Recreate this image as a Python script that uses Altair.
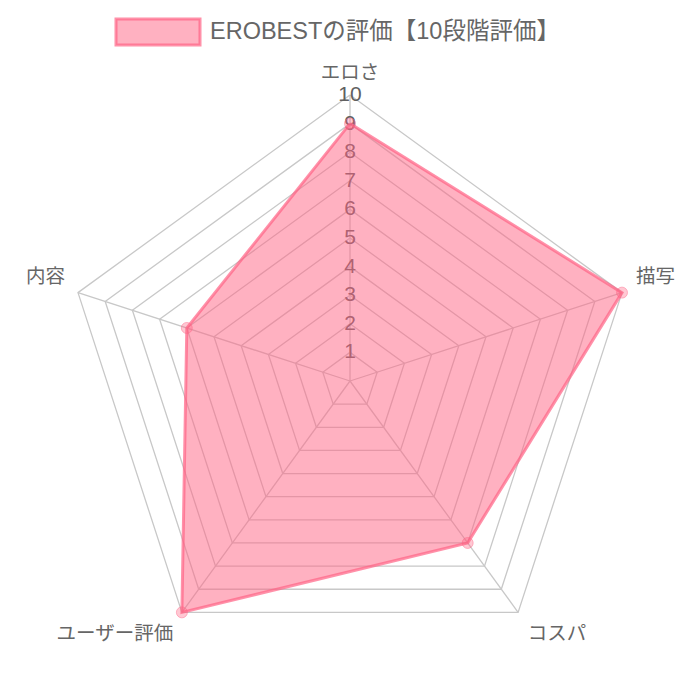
import altair as alt
import pandas as pd

# ---- data ----
categories = ["エロさ", "描写", "コスパ", "ユーザー評価", "内容"]
values = [9, 10, 7, 10, 6]
series_name = "EROBESTの評価【10段階評価】"
levels = list(range(1, 11))
tick_labels = [str(v) for v in levels]
max_level = 10

n = len(categories)

# ---- tables built from the arrays ----
poly = pd.DataFrame({
    "k": list(range(n + 1)),
    "cat": [categories[i % n] for i in range(n + 1)],
    "value": [values[i % n] for i in range(n + 1)],
})
pts = pd.DataFrame({"k": list(range(n)), "cat": categories, "value": values})
rings = pd.DataFrame([
    {"level": lv, "k": k} for lv in levels for k in range(n + 1)
])
spokes = pd.DataFrame({"k": list(range(n)), "cat": categories, "r": [max_level] * n})
ticks = pd.DataFrame({"level": levels, "label": tick_labels})
legend_df = pd.DataFrame({"series": [series_name]})

FONT = "Helvetica Neue, Liberation Sans, Noto Sans CJK JP, sans-serif"
PINK_FILL = "rgba(255, 99, 132, 0.5)"
PINK_LINE = "rgba(255, 99, 132, 0.7)"
GRID = "#c8c8c8"

# pixel geometry of the plot area
W, H = 684, 676
UNIT = 28.6       # pixels per rating point
CX, CY = 342, 373  # centre inside plot area
xs = alt.Scale(domain=[-CX / UNIT, (W - CX) / UNIT], nice=False, zero=False)
ys = alt.Scale(domain=[-(H - CY) / UNIT, CY / UNIT], nice=False, zero=False)

def polar(chart, rfield, kfield="k"):
    return chart.transform_calculate(
        ang=f"datum.{kfield} * 2 * PI / {n}"
    ).transform_calculate(
        px=f"datum.{rfield} * sin(datum.ang)",
        py=f"datum.{rfield} * cos(datum.ang)",
    )

X = alt.X("px:Q", scale=xs, axis=None)
Y = alt.Y("py:Q", scale=ys, axis=None)

ring_layer = polar(alt.Chart(rings), "level").mark_line(
    color=GRID, strokeWidth=1.3
).encode(x=X, y=Y, detail="level:N", order="k:Q")

spoke_layer = polar(alt.Chart(spokes), "r").transform_calculate(zero="0").mark_rule(
    color=GRID, strokeWidth=1.3
).encode(
    x=alt.X("zero:Q", scale=xs, axis=None),
    y=alt.Y("zero:Q", scale=ys, axis=None),
    x2="px:Q", y2="py:Q",
)

tick_layer = alt.Chart(ticks).transform_calculate(zero="0").mark_text(
    font=FONT, fontSize=21, color="#606060", baseline="middle", align="center"
).encode(
    x=alt.X("zero:Q", scale=xs, axis=None),
    y=alt.Y("level:Q", scale=ys, axis=None),
    text="label:N",
)

area_layer = polar(alt.Chart(poly), "value").mark_line(
    fill=PINK_FILL, stroke=PINK_LINE, strokeWidth=3, strokeJoin="miter"
).encode(x=X, y=Y, order="k:Q")

point_layer = polar(alt.Chart(pts), "value").mark_point(
    filled=True, shape="circle", size=120, color=PINK_FILL,
    stroke=PINK_LINE, strokeWidth=1
).encode(x=X, y=Y)

# label placement styles (per category index)
label_styles = [
    dict(align="center", baseline="bottom", dx=0, dy=-1),
    dict(align="left", baseline="middle", dx=3, dy=-12),
    dict(align="left", baseline="top", dx=3, dy=3),
    dict(align="right", baseline="top", dx=-2, dy=3),
    dict(align="right", baseline="middle", dx=-2, dy=-12),
]
label_layers = []
for i, st in enumerate(label_styles):
    lbl = polar(alt.Chart(spokes), "r").transform_filter(
        f"datum.k == {i}"
    ).transform_calculate(
        lx="datum.px * 1.04", ly="datum.py * 1.04"
    ).mark_text(font=FONT, fontSize=19.5, color="#666666", **st).encode(
        x=alt.X("lx:Q", scale=xs, axis=None),
        y=alt.Y("ly:Q", scale=ys, axis=None),
        text="cat:N",
    )
    label_layers.append(lbl)

legend_box = alt.Chart(legend_df).mark_rect(
    fill="#ffb1c1", stroke=PINK_LINE, strokeWidth=3
).encode(x=alt.value(108), x2=alt.value(192), y=alt.value(11), y2=alt.value(37))

legend_text = alt.Chart(legend_df).mark_text(
    font=FONT, fontSize=23.5, color="#666666", align="left", baseline="middle"
).encode(x=alt.value(202), y=alt.value(24), text="series:N")

chart = alt.layer(
    ring_layer, spoke_layer, tick_layer, area_layer, point_layer,
    *label_layers, legend_box, legend_text
).properties(
    width=W, height=H, padding=0, autosize="none"
).configure_view(stroke=None)

chart.save("out.html", embed_options={"renderer": "svg", "actions": False})
